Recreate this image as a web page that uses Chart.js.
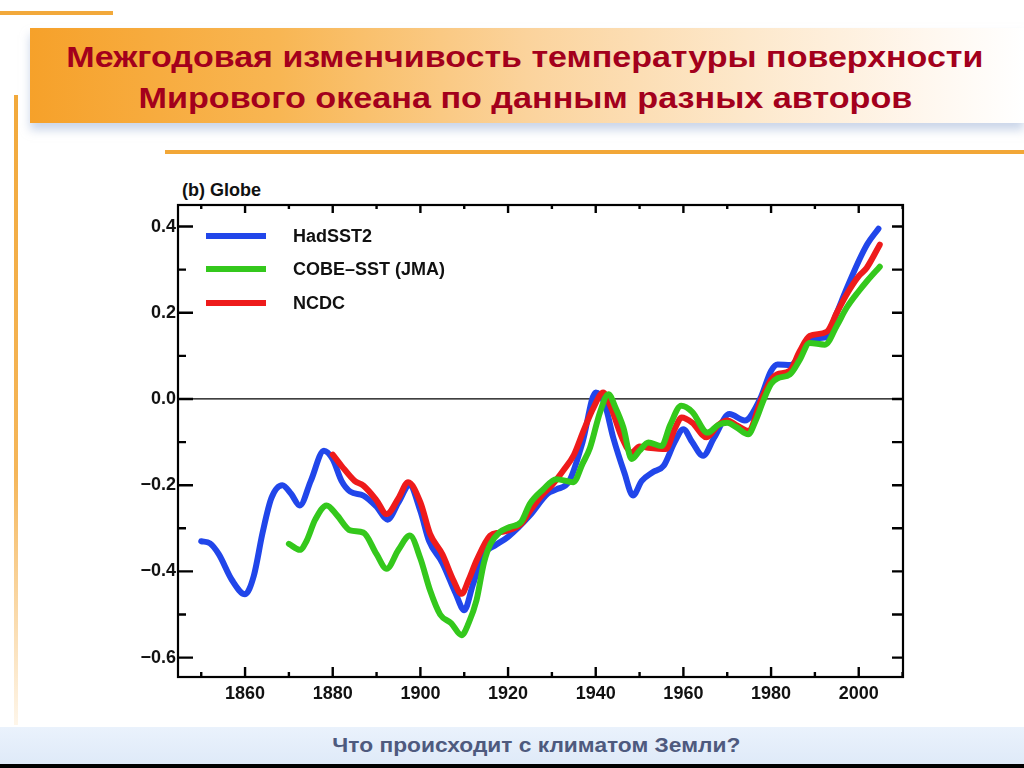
<!DOCTYPE html>
<html lang="ru">
<head>
  <meta charset="UTF-8">
  <title>Межгодовая изменчивость температуры поверхности</title>
  <script src="https://cdn.jsdelivr.net/npm/chart.js"></script>
  <style>
    html, body {
      margin: 0;
      padding: 0;
      width: 1024px;
      height: 768px;
      overflow: hidden;
      background: #ffffff;
      position: relative;
      font-family: "Liberation Sans", Arial, sans-serif;
    }
    .topline { position: absolute; left: 0; top: 11px; width: 113px; height: 4px; background: #f2a93b; }
    .vline {
      position: absolute; left: 14px; top: 95px; width: 4px; height: 630px;
      background: linear-gradient(to bottom, #f2a93b 0%, #f5b659 60%, rgba(250,210,150,0.2) 100%);
    }
    .banner {
      position: absolute; left: 30px; top: 28px; width: 994px; height: 95px;
      background: linear-gradient(to right, #f6a12a 0%, #f8b653 25%, #fbd39c 50%, #fde8cb 72%, #fff7ee 90%, #ffffff 100%);
      box-shadow: 0 7px 9px rgba(160, 180, 215, 0.55);
    }
    .hline { position: absolute; left: 165px; top: 150px; width: 859px; height: 4px; background: #f2a737; }
    .title {
      position: absolute; left: 0; width: 1050px; text-align: center;
      color: #a3001c; font-weight: bold; font-size: 29px; line-height: 1;
      font-family: "Liberation Sans Narrow", "Liberation Sans", Arial, sans-serif;
      white-space: nowrap;
    }
    .title span, .footer span { display: inline-block; transform-origin: center center; }
    .footer {
      position: absolute; left: 0; top: 727px; width: 1024px; height: 37px;
      background: linear-gradient(to bottom, #eaf2fc, #dfeaf8);
    }
    .footer-text {
      position: absolute; left: 0; width: 1072px; top: 7px; text-align: center;
      color: #4e5a7e; font-weight: bold; font-size: 21px; line-height: 1;
      font-family: "Liberation Sans Narrow", "Liberation Sans", Arial, sans-serif;
      white-space: nowrap;
    }
    .bottombar { position: absolute; left: 0; top: 764px; width: 1024px; height: 4px; background: #000; }
    .globe {
      position: absolute; left: 182px; top: 180px;
      font: bold 18px "Liberation Sans", Arial, sans-serif; color: #111;
    }
    .chart-box { position: absolute; left: 100px; top: 180px; width: 820px; height: 540px; }
  </style>
</head>
<body>

<div class="topline"></div>
<div class="vline"></div>
<div class="banner"></div>
<div class="hline"></div>
<div class="title" style="top:43px"><span data-w="917">Межгодовая изменчивость температуры поверхности</span></div>
<div class="title" style="top:84px"><span data-w="774">Мирового океана по данным разных авторов</span></div>

<div class="globe">(b) Globe</div>
<div class="chart-box"><canvas id="sstChart"></canvas></div>

<div class="footer">
  <div class="footer-text"><span data-w="408">Что происходит с климатом Земли?</span></div>
</div>
<div class="bottombar"></div>

<script>
  // series (years / anomaly values)
  const seriesNames = ['HadSST2', 'COBE–SST (JMA)', 'NCDC'];
  const seriesColors = ['#2146ea', '#34c81c', '#ee1b1b'];

  const hadYears = [1850, 1852, 1854, 1857, 1860, 1862, 1864, 1866, 1868.5, 1870.5, 1872.5, 1875, 1878, 1880, 1882, 1884, 1887, 1890, 1892.5, 1895, 1897.5, 1900, 1902, 1905, 1908, 1910, 1912, 1914.5, 1917, 1920, 1925, 1929, 1931, 1934, 1937, 1940, 1942, 1944, 1946.5, 1948.5, 1950.5, 1953, 1955.5, 1958, 1960, 1962, 1964.5, 1967, 1970.5, 1974, 1977.5, 1980, 1981.5, 1984.5, 1987, 1989, 1992.5, 1995, 1997, 2000, 2002, 2004.5];
  const hadVals = [-0.33, -0.335, -0.36, -0.42, -0.453, -0.41, -0.31, -0.23, -0.20, -0.22, -0.247, -0.19, -0.12, -0.14, -0.19, -0.215, -0.224, -0.25, -0.28, -0.24, -0.20, -0.26, -0.33, -0.38, -0.45, -0.49, -0.43, -0.36, -0.34, -0.32, -0.27, -0.22, -0.21, -0.19, -0.10, 0.015, -0.01, -0.09, -0.17, -0.224, -0.19, -0.17, -0.155, -0.10, -0.07, -0.10, -0.132, -0.09, -0.035, -0.05, 0.0, 0.065, 0.08, 0.079, 0.11, 0.14, 0.143, 0.20, 0.25, 0.32, 0.36, 0.395];

  const cobeYears = [1870, 1872.5, 1874, 1876, 1878.6, 1881, 1884, 1887, 1890, 1892.3, 1895, 1897.6, 1900, 1902.2, 1904.5, 1907, 1909.4, 1911, 1912.8, 1914.5, 1916, 1918, 1920.4, 1923, 1925, 1928, 1931, 1934.9, 1937, 1938.7, 1941, 1942.9, 1944.5, 1946.3, 1948.2, 1950, 1952, 1955, 1957, 1959.5, 1962, 1965.5, 1968, 1970, 1972, 1974.8, 1976.5, 1978.2, 1980, 1981.5, 1984.3, 1986.5, 1988.8, 1992.3, 1995, 1997.2, 2000, 2002, 2004.8];
  const cobeVals = [-0.336, -0.35, -0.33, -0.28, -0.247, -0.27, -0.305, -0.31, -0.36, -0.394, -0.35, -0.317, -0.37, -0.444, -0.50, -0.52, -0.548, -0.52, -0.467, -0.38, -0.336, -0.31, -0.297, -0.285, -0.243, -0.21, -0.186, -0.193, -0.15, -0.113, -0.03, 0.011, -0.02, -0.066, -0.139, -0.12, -0.101, -0.109, -0.06, -0.016, -0.03, -0.078, -0.06, -0.055, -0.065, -0.082, -0.05, -0.005, 0.035, 0.048, 0.057, 0.09, 0.13, 0.126, 0.17, 0.211, 0.25, 0.275, 0.307];

  const ncdcYears = [1880, 1882, 1885, 1887, 1890, 1892.3, 1895, 1897.2, 1900, 1902.2, 1905, 1907.5, 1909.4, 1911, 1912.8, 1915.9, 1918, 1920, 1923, 1925, 1928, 1930, 1932.6, 1935, 1937.2, 1939.5, 1941.7, 1943.5, 1946, 1948.2, 1950, 1952, 1956, 1958, 1959.6, 1962, 1965.3, 1968, 1970, 1972, 1974.8, 1977.8, 1980, 1981.3, 1984.3, 1986.5, 1988.8, 1992.7, 1995, 1997.2, 2000, 2001.8, 2004.8];
  const ncdcVals = [-0.129, -0.155, -0.19, -0.201, -0.235, -0.267, -0.23, -0.193, -0.24, -0.313, -0.36, -0.42, -0.452, -0.42, -0.375, -0.317, -0.31, -0.305, -0.29, -0.26, -0.22, -0.20, -0.166, -0.13, -0.074, -0.02, 0.015, -0.02, -0.09, -0.124, -0.11, -0.113, -0.116, -0.07, -0.043, -0.055, -0.089, -0.06, -0.05, -0.06, -0.074, 0.0, 0.045, 0.057, 0.066, 0.11, 0.146, 0.156, 0.20, 0.242, 0.285, 0.304, 0.358];

  const xLabelYears = [1860, 1880, 1900, 1920, 1940, 1960, 1980, 2000];
  const yLabelVals = [-0.6, -0.4, -0.2, 0.0, 0.2, 0.4];

  function toPoints(years, vals) {
    return years.map((yr, i) => ({ x: yr, y: vals[i] }));
  }

  function isYLabel(v) {
    return yLabelVals.some(t => Math.abs(t - v) < 1e-6);
  }

  // frame, inward ticks and the zero line
  const frameTicks = {
    id: 'frameTicks',
    beforeDatasetsDraw(chart) {
      const { ctx, chartArea: a, scales: { y } } = chart;
      const y0 = y.getPixelForValue(0);
      ctx.save();
      ctx.strokeStyle = '#000';
      ctx.lineWidth = 1.3;
      ctx.beginPath();
      ctx.moveTo(a.left, y0);
      ctx.lineTo(a.right, y0);
      ctx.stroke();
      ctx.restore();
    },
    afterDraw(chart) {
      const { ctx, chartArea: a, scales: { x, y } } = chart;
      ctx.save();
      ctx.strokeStyle = '#000';
      ctx.lineWidth = 2.2;
      ctx.strokeRect(a.left, a.top, a.right - a.left, a.bottom - a.top);
      ctx.lineWidth = 2.4;
      ctx.beginPath();
      y.ticks.forEach(t => {
        const py = y.getPixelForValue(t.value);
        const major = isYLabel(t.value);
        ctx.moveTo(a.left, py);
        ctx.lineTo(a.left + (major ? 15 : 8), py);
        ctx.moveTo(a.right, py);
        ctx.lineTo(a.right - 11, py);
      });
      x.ticks.forEach(t => {
        const px = x.getPixelForValue(t.value);
        const major = xLabelYears.includes(Math.round(t.value));
        ctx.moveTo(px, a.bottom);
        ctx.lineTo(px, a.bottom - (major ? 10 : 5));
        ctx.moveTo(px, a.top);
        ctx.lineTo(px, a.top + (major ? 8 : 4));
      });
      ctx.stroke();
      ctx.restore();
    }
  };

  const insideLegend = {
    id: 'insideLegend',
    afterDatasetsDraw(chart) {
      const { ctx, chartArea: a } = chart;
      const rows = [31, 64, 98];
      ctx.save();
      ctx.font = 'bold 18px "Liberation Sans", Arial, sans-serif';
      ctx.textBaseline = 'middle';
      ctx.fillStyle = '#111';
      seriesNames.forEach((name, i) => {
        const yy = a.top + rows[i];
        ctx.strokeStyle = seriesColors[i];
        ctx.lineWidth = 6;
        ctx.beginPath();
        ctx.moveTo(a.left + 28, yy);
        ctx.lineTo(a.left + 88, yy);
        ctx.stroke();
        ctx.fillText(name, a.left + 115, yy + 1);
      });
      ctx.restore();
    }
  };

  const ctx = document.getElementById('sstChart').getContext('2d');
  const lineStyle = {
    borderWidth: 6,
    pointRadius: 0,
    fill: false,
    cubicInterpolationMode: 'monotone',
    borderCapStyle: 'round',
    borderJoinStyle: 'round'
  };

  new Chart(ctx, {
    type: 'line',
    data: {
      datasets: [
        Object.assign({ label: seriesNames[0], data: toPoints(hadYears, hadVals), borderColor: seriesColors[0], order: 3 }, lineStyle),
        Object.assign({ label: seriesNames[1], data: toPoints(cobeYears, cobeVals), borderColor: seriesColors[1], order: 1 }, lineStyle),
        Object.assign({ label: seriesNames[2], data: toPoints(ncdcYears, ncdcVals), borderColor: seriesColors[2], order: 2 }, lineStyle)
      ]
    },
    options: {
      responsive: true,
      maintainAspectRatio: false,
      animation: false,
      layout: { padding: { top: 25, right: 17, left: 0, bottom: 0 } },
      plugins: {
        legend: { display: false },
        tooltip: { enabled: false }
      },
      scales: {
        x: {
          type: 'linear',
          min: 1844.7,
          max: 2010.1,
          grid: { display: false, drawTicks: false },
          border: { display: false },
          ticks: {
            stepSize: 10,
            includeBounds: false,
            autoSkip: false,
            maxRotation: 0,
            padding: 6,
            color: '#111',
            font: { family: '"Liberation Sans", Arial, sans-serif', size: 18, weight: 'bold' },
            callback: v => xLabelYears.includes(Math.round(v)) ? String(Math.round(v)) : ''
          },
          afterFit: s => { s.height = 43; }
        },
        y: {
          min: -0.645,
          max: 0.45,
          grid: { display: false, drawTicks: false },
          border: { display: false },
          ticks: {
            stepSize: 0.1,
            includeBounds: false,
            autoSkip: false,
            padding: 2,
            color: '#111',
            font: { family: '"Liberation Sans", Arial, sans-serif', size: 18, weight: 'bold' },
            callback: v => isYLabel(v) ? (v < -1e-6 ? '\u2212' : '') + Math.abs(v).toFixed(1) : ''
          },
          afterFit: s => { s.width = 78; }
        }
      }
    },
    plugins: [frameTicks, insideLegend]
  });

  // squeeze/stretch the slide texts to the widths they have on the slide
  document.querySelectorAll('span[data-w]').forEach(el => {
    const w = el.getBoundingClientRect().width;
    const target = +el.dataset.w;
    if (w > 0) el.style.transform = 'scaleX(' + (target / w).toFixed(3) + ')';
  });
</script>

</body>
</html>
